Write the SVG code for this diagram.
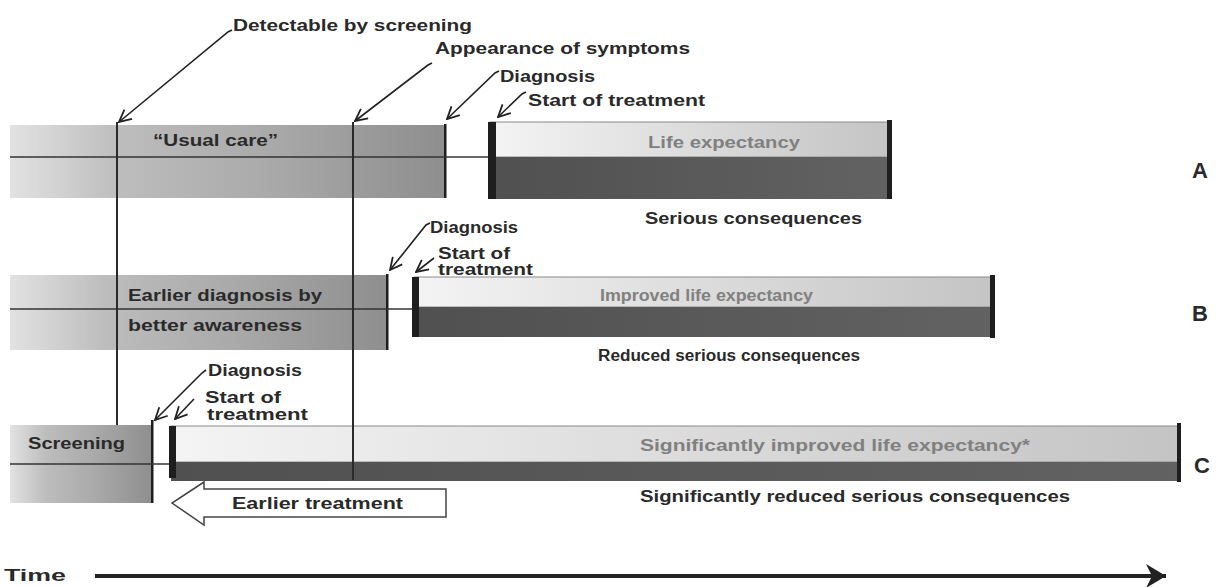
<svg xmlns="http://www.w3.org/2000/svg" width="1216" height="587" viewBox="0 0 1216 587">
<defs>
  <linearGradient id="gOld" x1="0" y1="0" x2="1" y2="0">
    <stop offset="0" stop-color="#e2e2e2"/>
    <stop offset="0.25" stop-color="#bdbdbd"/>
    <stop offset="0.6" stop-color="#a9a9a9"/>
    <stop offset="1" stop-color="#8e8e8e"/>
  </linearGradient>
  <linearGradient id="gLight" x1="0" y1="0" x2="1" y2="0">
    <stop offset="0" stop-color="#f4f4f4"/>
    <stop offset="0.5" stop-color="#dcdcdc"/>
    <stop offset="1" stop-color="#c4c4c4"/>
  </linearGradient>
  <linearGradient id="gDark" x1="0" y1="0" x2="1" y2="0">
    <stop offset="0" stop-color="#505050"/>
    <stop offset="1" stop-color="#626262"/>
  </linearGradient>
  <marker id="open" viewBox="0 0 14 14" refX="13" refY="7" markerWidth="14" markerHeight="14" markerUnits="userSpaceOnUse" orient="auto">
    <path d="M1,1 L13,7 L1,13" fill="none" stroke="#222" stroke-width="1.8"/>
  </marker>
  <marker id="timehead" viewBox="0 0 12 12" refX="10" refY="6" markerWidth="6" markerHeight="6" orient="auto">
    <path d="M0,0 L10,6 L0,12 L3,6 Z" fill="#222"/>
  </marker>
</defs>
<style>
  text { font-family: "Liberation Sans", Arial, sans-serif; font-weight: bold; fill: #2a2a2a; font-size: 16px; }
  .grey { fill: #808080; }
  .big { font-size: 22px; }
  .mid { stroke: #333; stroke-width: 1.5; }
  .edge { fill: #1e1e1e; }
  .vline { stroke: #2a2a2a; stroke-width: 2; fill: none; }
  .lead { stroke: #222; stroke-width: 1.6; fill: none; marker-end: url(#open); }
  .light { fill: url(#gLight); stroke: #8a8a8a; stroke-width: 1; }
  .dark { fill: url(#gDark); }
  .old { fill: url(#gOld); }
</style>

<g id="rowA">
  <rect class="old" x="10" y="125" width="436" height="73"/>
  <rect class="edge" x="444" y="124" width="2.5" height="74"/>
  <line class="mid" x1="10" y1="157" x2="490" y2="157"/>
  <text x="153" y="146" textLength="125" lengthAdjust="spacingAndGlyphs" fill="#333">“Usual care”</text>
  <rect class="light" x="490" y="122" width="400" height="35"/>
  <rect class="dark" x="490" y="157" width="400" height="42"/>
  <rect class="edge" x="488" y="122" width="8" height="77"/>
  <rect class="edge" x="887" y="120" width="5" height="79"/>
  <text class="grey" x="648" y="148" textLength="152" lengthAdjust="spacingAndGlyphs">Life expectancy</text>
  <text x="645" y="224" textLength="217" lengthAdjust="spacingAndGlyphs">Serious consequences</text>
  <text class="big" x="1192" y="178">A</text>
</g>

<g id="rowB">
  <rect class="old" x="10" y="275" width="378" height="75"/>
  <rect class="edge" x="386" y="274" width="2.5" height="76"/>
  <line class="mid" x1="10" y1="309" x2="413" y2="309"/>
  <text x="128" y="301" textLength="194" lengthAdjust="spacingAndGlyphs">Earlier diagnosis by</text>
  <text x="128" y="331" textLength="174" lengthAdjust="spacingAndGlyphs">better awareness</text>
  <rect class="light" x="414" y="277" width="579" height="30"/>
  <rect class="dark" x="414" y="307" width="579" height="30"/>
  <rect class="edge" x="412" y="277" width="7" height="60"/>
  <rect class="edge" x="990" y="275" width="5" height="63"/>
  <text class="grey" x="600" y="301" textLength="213" lengthAdjust="spacingAndGlyphs">Improved life expectancy</text>
  <text x="598" y="361" textLength="262" lengthAdjust="spacingAndGlyphs">Reduced serious consequences</text>
  <text class="big" x="1192" y="321">B</text>
</g>

<g id="rowC">
  <rect class="old" x="10" y="425" width="143" height="78"/>
  <rect class="edge" x="151" y="420" width="2.5" height="83"/>
  <line class="mid" x1="10" y1="464" x2="172" y2="464"/>
  <text x="28" y="449" textLength="97" lengthAdjust="spacingAndGlyphs" fill="#3a3a3a">Screening</text>
  <rect class="light" x="171" y="426" width="1008" height="36"/>
  <rect class="dark" x="171" y="462" width="1008" height="19"/>
  <rect class="edge" x="169" y="426" width="7" height="52"/>
  <rect class="edge" x="1177" y="423" width="4" height="59"/>
  <text class="grey" x="640" y="451" textLength="390" lengthAdjust="spacingAndGlyphs">Significantly improved life expectancy*</text>
  <text x="640" y="502" textLength="430" lengthAdjust="spacingAndGlyphs">Significantly reduced serious consequences</text>
  <text class="big" x="1194" y="473">C</text>
</g>

<g id="earlierTreatment">
  <path d="M446,489 L204,489 L204,482 L172,503 L204,525 L204,517 L446,517 Z" fill="#fff" stroke="#444" stroke-width="1.5"/>
  <text x="232" y="509" textLength="171" lengthAdjust="spacingAndGlyphs">Earlier treatment</text>
</g>

<g id="timeAxis">
  <text x="4" y="581" font-size="18" textLength="62" lengthAdjust="spacingAndGlyphs">Time</text>
  <line x1="95" y1="576" x2="1166" y2="576" stroke="#222" stroke-width="4" marker-end="url(#timehead)"/>
</g>

<g id="labels">
  <text x="233" y="31" textLength="239" lengthAdjust="spacingAndGlyphs">Detectable by screening</text>
  <text x="435" y="54" textLength="255" lengthAdjust="spacingAndGlyphs">Appearance of symptoms</text>
  <text x="500" y="82" textLength="95" lengthAdjust="spacingAndGlyphs">Diagnosis</text>
  <text x="528" y="106" textLength="177" lengthAdjust="spacingAndGlyphs">Start of treatment</text>
  <text x="430" y="233" textLength="88" lengthAdjust="spacingAndGlyphs">Diagnosis</text>
  <text x="438" y="259" textLength="72" lengthAdjust="spacingAndGlyphs">Start of</text>
  <text x="438" y="275" textLength="95" lengthAdjust="spacingAndGlyphs">treatment</text>
  <text x="208" y="376" textLength="94" lengthAdjust="spacingAndGlyphs">Diagnosis</text>
  <text x="205" y="403" textLength="76" lengthAdjust="spacingAndGlyphs">Start of</text>
  <text x="207" y="420" textLength="101" lengthAdjust="spacingAndGlyphs">treatment</text>
</g>

<g id="connectors">
  <line class="vline" x1="117" y1="122" x2="117" y2="425"/>
  <line class="vline" x1="353" y1="122" x2="353" y2="480"/>
  <path class="lead" d="M232,30 L228,32 L119,122"/>
  <path class="lead" d="M432,63 L428,65 L355,121"/>
  <path class="lead" d="M499,71 L495,73 L447,119"/>
  <path class="lead" d="M526,92 L522,94 L498,117"/>
  <path class="lead" d="M430,223 L426,225 L390,270"/>
  <path class="lead" d="M434,258 L416,272"/>
  <path class="lead" d="M206,370 L202,373 L155,420"/>
  <path class="lead" d="M194,399 L175,419"/>
</g>
</svg>
